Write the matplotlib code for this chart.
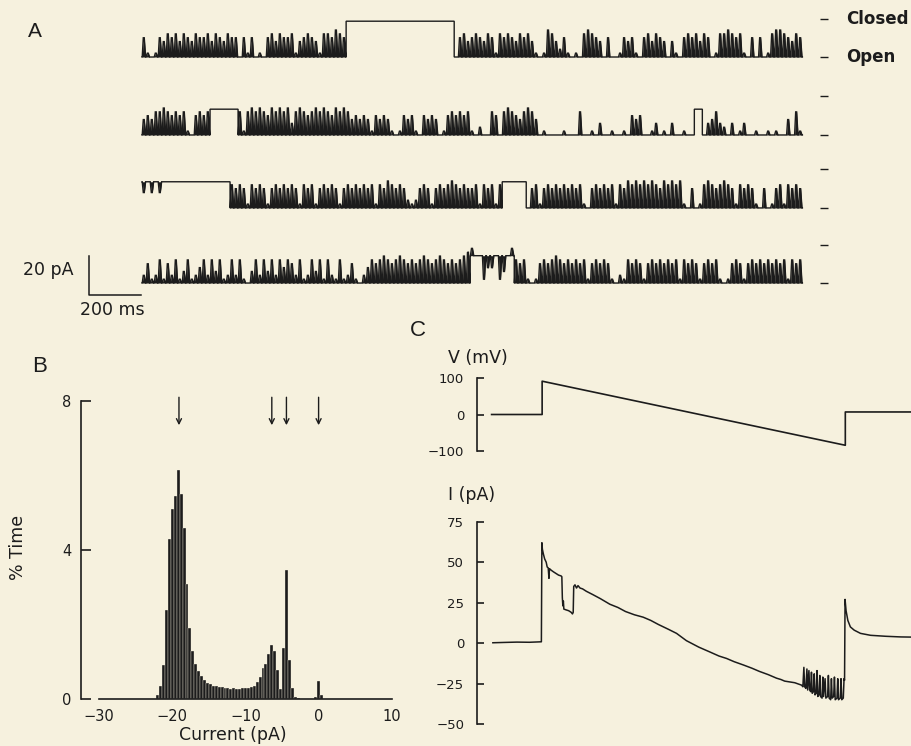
import numpy as np
import matplotlib
matplotlib.use("Agg")
import matplotlib.pyplot as plt

plt.rcParams['font.family'] = ['DejaVu Sans']

BG = '#f6f1de'
INK = '#1c1c1c'

# ---------------- Panel A data ----------------
# Each character is one ~15 ms bin of a single-channel record.
# digit d : open baseline with a burst of closing flickers reaching d/10 of a unit closure
# 'X'     : held at the trace's hold level
# 'A'..'K': held, with an excursion to (index)/10
trace1 = ("5101" "5465646546556465465" "50515010" "5646556" "1" "45654" "1" "66576" "5"
          "XXXXXXXXXXXXXXXXXXXXXXXXXXX" "0" "564"
          "565465" "1" "656546564" "101" "76" "425" "1010" "6765" "4050" "01" "545" "10"
          "56465" "404" "10" "5656465" "01" "667656" "10" "505" "01" "6776" "5465")
trace2 = ("4546" "676" "5656" "10" "565" "6" "XXXXXXX" "61" "67676576767" "3"
          "67656767657676" "45454" "1" "5454" "101" "545" "10" "5454" "01" "565656"
          "1020" "0" "6" "5" "0" "676" "54" "676" "4" "0100001000" "6" "0010" "3"
          "0010010" "545" "001" "3" "010" "3" "00100" "XX" "0" "3" "4" "6" "3"
          "20301" "30010" "01010" "0" "4" "0" "6" "1")
trace3 = ("EXEXEXXXXXXXXXXXXXXXXX" "6565" "1" "6565" "1" "5656565" "1" "656" "1" "56565" "1"
          "56565656" "1" "6576565" "212" "565" "1" "565676565"
          "56165616" "XXXXXX" "0" "56" "1" "5656565656" "10" "565656" "1"
          "6576767676576767" "10501" "67656765" "1" "6565" "10501" "56" "1" "6565")
trace4 = ("2512615261" "3612462636" "1262610362" "6362646526" "1263616216" "1251024"
          "656765676565676567656567" "8" "JXXBEEXBDXJ"
          "656" "101" "565676565656" "1" "56565" "1021" "6565" "1" "56565656" "1" "6565" "1"
          "5656" "101" "565" "1" "5656565656" "1" "656")
traces = [trace1, trace2, trace3, trace4]
hold_levels = [0.93, 0.67, 0.68, 0.71]       # fraction of unit closure
trace_offsets_pA = [0.0, -40.5, -78.4, -117.4]  # open level of each record
unit_pA = 20.0
trace_dur_ms = 2540.0
scale_pA = 20
scale_ms = 200

# ---------------- Panel B data ----------------
bin_centers = np.round(np.arange(-22.0, 0.41, 0.4), 1)
pct_time = [0.1, 0.35, 0.9, 2.4, 4.3, 5.1, 5.45, 6.15, 5.5, 4.6, 3.1, 1.9, 1.3, 0.95,
            0.75, 0.62, 0.5, 0.43, 0.4, 0.36, 0.34, 0.33, 0.31, 0.3, 0.29, 0.28, 0.29,
            0.28, 0.28, 0.29, 0.3, 0.3, 0.32, 0.36, 0.45, 0.6, 0.82, 0.95, 1.2, 1.45,
            1.3, 0.78, 0.26, 1.36, 3.45, 1.05, 0.3, 0.06, 0.02, 0.0, 0.0, 0.0, 0.0, 0.0,
            0.05, 0.48, 0.12]
arrow_pA = [-19.1, -6.4, -4.4, 0.0]
b_xticks = [-30, -20, -10, 0, 10]
b_yticks = [0, 4, 8]

# ---------------- Panel C data ----------------
v_t = [0, 200, 200, 1400, 1400, 1660]
v_mV = [0, 0, 92, -85, 7, 7]
i_t = [5, 50, 100, 150, 197, 199, 201, 205, 210, 216, 220, 224, 227, 229, 236, 245, 255,
       265, 275, 278, 280, 282, 284, 286, 295, 305, 315, 320, 323, 325, 330, 336, 342,
       350, 360, 375, 400, 430, 468, 500, 530, 565, 600, 630, 660, 700, 732, 771, 820,
       864, 900, 930, 960, 996, 1030, 1060, 1095, 1128, 1145, 1160, 1200, 1227,
       1232, 1236, 1239, 1244, 1248, 1251, 1256, 1259, 1263, 1266, 1269, 1274, 1277,
       1280, 1285, 1288, 1291, 1296, 1299, 1302, 1308, 1311, 1314, 1320, 1323, 1330,
       1333, 1336, 1342, 1345, 1348, 1354, 1357, 1360, 1367, 1370, 1373, 1380, 1383,
       1386, 1392, 1395, 1397, 1399, 1403, 1410, 1420, 1435, 1460, 1500, 1560, 1620, 1660]
i_pA = [0.2, 0.4, 0.6, 0.5, 0.8, 62, 58, 55, 52, 50, 47, 46.5, 40, 46, 45, 44, 43,
        42, 41.5, 41, 28, 23, 26, 21, 20.5, 20, 19, 18, 19, 35, 36, 34, 35.5,
        34, 33.5, 32, 30, 27.5, 24, 22, 19.5, 17.5, 16, 14, 11.5, 8.5, 6, 1.5, -2.5,
        -5.5, -8, -9.5, -11.5, -13.5, -15.5, -17.5, -19.5, -21.7, -22.5, -23.5, -24.5, -26,
        -27, -15, -27, -28, -16, -29, -17, -29, -30, -18, -31, -30, -19,
        -32, -31, -17, -33, -32, -20, -33, -34, -21, -33, -22, -34, -33,
        -20, -34, -35, -22, -34, -33, -21, -35, -34, -22, -35, -34, -22,
        -35, -34, -22, -23, 27, 20, 14, 10, 8, 6, 4.8, 4.2, 3.8, 3.7]
v_yticks = [-100, 0, 100]
i_yticks = [-50, -25, 0, 25, 50, 75]


def trace_xy(code, hold, dur):
    w = dur / len(code)
    xs, ys, bs = [], [], []
    frac = [0.0, 0.05, 0.32, 0.56, 0.9, 1.0]
    for i, ch in enumerate(code):
        t = i * w
        if ch == 'X':
            b = p = hold
        elif ch.isdigit():
            b, p = 0.0, int(ch) / 10.0
        else:
            b, p = hold, (ord(ch) - ord('A')) / 10.0
        xs += [t + f * w for f in frac]
        ys += [b, b, p, p, b, b]
        bs += [b] * 6
    return np.array(xs), np.array(ys), np.array(bs)


fig = plt.figure(figsize=(9.11, 7.46), dpi=100, facecolor=BG)

# ---------------- Panel A ----------------
axA = fig.add_axes([0, 1 - 320 / 746, 1, 320 / 746])
axA.set_facecolor('none')
axA.set_xlim(-546.2, 2957.7)
axA.set_ylim(-136.6, 29.61)
axA.axis('off')
for code, hold, off in zip(traces, hold_levels, trace_offsets_pA):
    xs, ys, bs = trace_xy(code, hold, trace_dur_ms)
    axA.fill_between(xs, off + bs * unit_pA, off + ys * unit_pA, color=INK, lw=0)
    axA.plot(xs, off + ys * unit_pA, color=INK, lw=1.0, solid_joinstyle='miter')
    axA.hlines([off, off + unit_pA], 2608, 2638, color=INK, lw=1.0)
axA.text(2708, trace_offsets_pA[0] + unit_pA, 'Closed', ha='left', va='center',
         fontsize=12, fontweight='bold', color=INK)
axA.text(2708, trace_offsets_pA[0], 'Open', ha='left', va='center',
         fontsize=12, fontweight='bold', color=INK)
sb_y = -123.6
sb_x = -204
axA.plot([sb_x, sb_x, sb_x + scale_ms], [sb_y + scale_pA, sb_y, sb_y], color=INK, lw=1.1)
axA.text(-265, -110.6, f'{scale_pA} pA', ha='right', va='center', fontsize=12.5, color=INK)
axA.text(-115, -131.4, f'{scale_ms} ms', ha='center', va='center', fontsize=12.5, color=INK)
axA.text(-411, 13, 'A', ha='center', va='center', fontsize=15, color=INK,
         family='Liberation Sans')

# ---------------- Panel B ----------------
axB = fig.add_axes([81 / 911, 47 / 746, 312.9 / 911, 298 / 746])
axB.set_facecolor('none')
axB.bar(bin_centers, pct_time, width=0.4, color=INK, edgecolor=BG, linewidth=0.25)
axB.set_xlim(-32.5, 10.3)
axB.set_ylim(0, 8)
for s in ['top', 'right']:
    axB.spines[s].set_visible(False)
axB.spines['left'].set_bounds(0, 8)
axB.spines['bottom'].set_bounds(-30, 10)
for s in ['left', 'bottom']:
    axB.spines[s].set_linewidth(1.2)
    axB.spines[s].set_color(INK)
axB.set_yticks(b_yticks)
axB.set_xticks(b_xticks)
axB.set_xticks([-30, 10], minor=True)
axB.tick_params(axis='y', direction='in', length=7, width=1.2, pad=7, labelsize=10.5,
                colors=INK)
axB.tick_params(axis='x', which='major', length=0, pad=7, labelsize=10.5, colors=INK)
axB.tick_params(axis='x', which='minor', direction='in', length=7, width=1.2, colors=INK)
for x in arrow_pA:
    axB.annotate('', xy=(x, 7.35), xytext=(x, 8.1),
                 arrowprops=dict(arrowstyle='->', lw=1.0, color=INK,
                                 mutation_scale=9, shrinkA=0, shrinkB=0),
                 annotation_clip=False)
fig.text(18 / 911, 1 - 547 / 746, '% Time', rotation=90, ha='center', va='center',
         fontsize=12.5, color=INK)
fig.text(233 / 911, 1 - 735 / 746, 'Current (pA)', ha='center', va='center',
         fontsize=12.5, color=INK)
fig.text(40 / 911, 1 - 367 / 746, 'B', ha='center', va='center', fontsize=16,
         color=INK, family='Liberation Sans')

# ---------------- Panel C ----------------
left_c = 476.7 / 911
width_c = (911 - 476.7) / 911
axV = fig.add_axes([left_c, (746 - 450.7) / 746, width_c, 72.4 / 746])
axI = fig.add_axes([left_c, (746 - 724) / 746, width_c, 202.3 / 746])
for ax, ticks in [(axV, v_yticks), (axI, i_yticks)]:
    ax.set_facecolor('none')
    ax.set_xlim(-59, 1660)
    for s in ['top', 'right', 'bottom']:
        ax.spines[s].set_visible(False)
    ax.spines['left'].set_bounds(ticks[0], ticks[-1])
    ax.spines['left'].set_linewidth(1.2)
    ax.spines['left'].set_color(INK)
    ax.set_xticks([])
    ax.set_yticks(ticks)
    ax.tick_params(axis='y', direction='in', length=5, width=1.2, pad=9, labelsize=9.5,
                   colors=INK)
axV.set_ylim(-100, 100)
axI.set_ylim(-50, 75)
axV.plot(v_t, v_mV, color=INK, lw=1.2, clip_on=False)
axI.plot(i_t, i_pA, color=INK, lw=1.1, clip_on=False)
fig.text(478 / 911, 1 - 358 / 746, 'V (mV)', ha='center', va='center', fontsize=12.5,
         color=INK)
fig.text(472 / 911, 1 - 495 / 746, 'I (pA)', ha='center', va='center', fontsize=12.5,
         color=INK)
fig.text(418 / 911, 1 - 330 / 746, 'C', ha='center', va='center', fontsize=16,
         color=INK, family='Liberation Sans')

fig.savefig('out.png', dpi=100, facecolor=BG)
